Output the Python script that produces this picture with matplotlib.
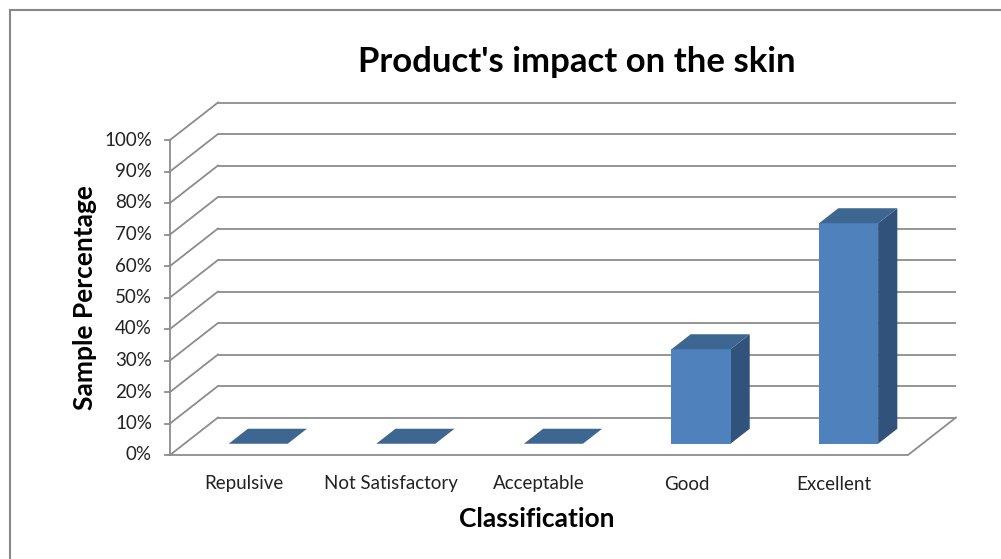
import matplotlib
matplotlib.use("Agg")
import matplotlib.pyplot as plt
from matplotlib.patches import Polygon, Rectangle

categories = ["Repulsive", "Not Satisfactory", "Acceptable", "Good", "Excellent"]
values = [0, 0, 0, 30, 70]
y_ticks = [0, 10, 20, 30, 40, 50, 60, 70, 80, 90, 100]
tick_labels = [f"{t}%" for t in y_ticks]
title = "Product's impact on the skin"
xlabel = "Classification"
ylabel = "Sample Percentage"

FONT = "Lato"
W, H = 1001, 559
fig = plt.figure(figsize=(W / 100, H / 100), dpi=100)
ax = fig.add_axes([0, 0, 1, 1])
ax.set_axis_off()

# front plane: x -0.5..4.5 -> 170..908 px ; y 0..100 -> 455..140 px (from top)
px_per_cat = (908 - 170) / 5.0
px_per_pct = (455 - 140) / 100.0
x0 = -0.5 - 170 / px_per_cat
x1 = x0 + W / px_per_cat
y0 = -(H - 455) / px_per_pct
y1 = y0 + H / px_per_pct
ax.set_xlim(x0, x1)
ax.set_ylim(y0, y1)

# depth offset (full depth) in data units
DX = 48 / px_per_cat
DY = 37.5 / px_per_pct

def P(x, y, d):
    return (x + DX * d, y + DY * d)

grid_c = "#8c8c8c"
lw = 1.3
xl, xr = -0.5, 4.5

# back wall horizontal lines and side-wall diagonals
for t, lab in zip(y_ticks, tick_labels):
    a = P(xl, t, 1); b = P(xr, t, 1)
    ax.plot([a[0], b[0]], [a[1], b[1]], color=grid_c, lw=lw, solid_capstyle="butt")
    f = P(xl, t, 0)
    ax.plot([f[0], a[0]], [f[1], a[1]], color=grid_c, lw=lw)
    # tick mark
    ax.plot([f[0] - 5 / px_per_cat, f[0]], [t, t], color=grid_c, lw=lw)
    ax.text(f[0] - 18 / px_per_cat, t, lab,
            ha="right", va="center", fontsize=13.5, family=FONT, color="#222222")

# front vertical axis
ax.plot([xl, xl], [0, 100], color=grid_c, lw=lw)
# floor front line and right edge
a = P(xl, 0, 0); b = P(xr, 0, 0); c = P(xr, 0, 1)
ax.plot([a[0], b[0], c[0]], [a[1], b[1], c[1]], color=grid_c, lw=lw)

# bars
front_c = "#4f81bd"
top_c = "#3d6690"
side_c = "#31527a"
bw = 0.4
d0, d1 = 0.3, 0.7
for i, v in enumerate(values):
    l, r = i - bw / 2, i + bw / 2
    side = [P(r, 0, d0), P(r, 0, d1), P(r, v, d1), P(r, v, d0)]
    ax.add_patch(Polygon(side, closed=True, facecolor=side_c, edgecolor="none", zorder=3))
    fl = P(l, 0, d0)
    ax.add_patch(Rectangle(fl, bw, v, facecolor=front_c, edgecolor="none", zorder=4))
    top = [P(l, v, d0), P(r, v, d0), P(r, v, d1), P(l, v, d1)]
    ax.add_patch(Polygon(top, closed=True, facecolor=top_c, edgecolor="none", zorder=4))

# category labels
for i, c in enumerate(categories):
    ax.text(i, -(484 - 455) / px_per_pct, c, ha="center", va="center",
            fontsize=13.5, family=FONT, color="#222222")

# axis titles
ax.text(-0.5 + (537 - 170) / px_per_cat, -(519 - 455) / px_per_pct, xlabel, ha="center", va="center",
        fontsize=19, fontweight="bold", family=FONT, color="black")
ax.text(-0.5 - (170 - 85) / px_per_cat, (455 - 298) / px_per_pct, ylabel, ha="center", va="center",
        rotation=90, fontsize=19, fontweight="bold", family=FONT, color="black")
ax.text(-0.5 + (577 - 170) / px_per_cat, (455 - 62) / px_per_pct, title, ha="center", va="center",
        fontsize=25, fontweight="bold", family=FONT, color="black")

# outer border
fig.add_artist(plt.Line2D([10 / W, 10 / W], [0, 1 - 10 / H], transform=fig.transFigure,
                          color="#888888", lw=1.5))
fig.add_artist(plt.Line2D([10 / W, 1], [1 - 10 / H, 1 - 10 / H], transform=fig.transFigure,
                          color="#888888", lw=1.5))

fig.savefig("out.png", dpi=100)
